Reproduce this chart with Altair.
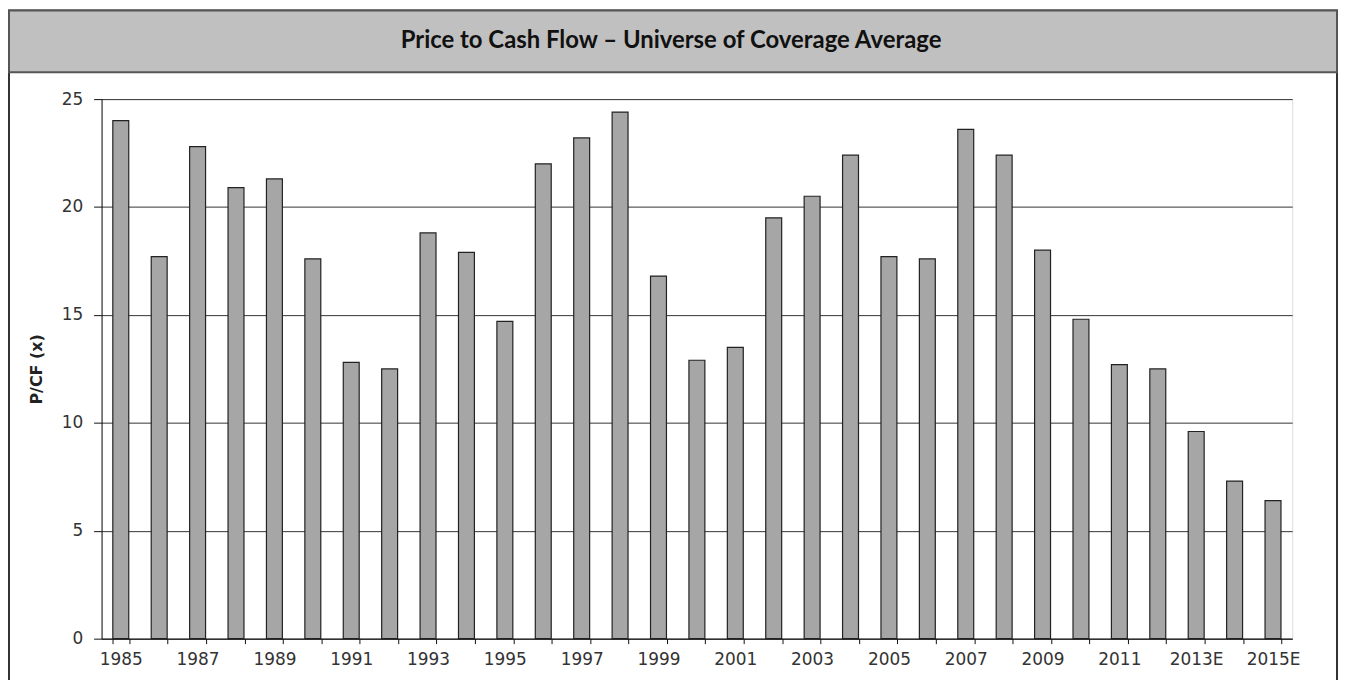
import altair as alt
import pandas as pd

years = ["1985", "1986", "1987", "1988", "1989", "1990", "1991", "1992", "1993", "1994",
         "1995", "1996", "1997", "1998", "1999", "2000", "2001", "2002", "2003", "2004",
         "2005", "2006", "2007", "2008", "2009", "2010", "2011", "2012", "2013E", "2014E", "2015E"]
pcf = [24.0, 17.7, 22.8, 20.9, 21.3, 17.6, 12.8, 12.5, 18.8, 17.9,
       14.7, 22.0, 23.2, 24.4, 16.8, 12.9, 13.5, 19.5, 20.5, 22.4,
       17.7, 17.6, 23.6, 22.4, 18.0, 14.8, 12.7, 12.5, 9.6, 7.3, 6.4]
title_text = "Price to Cash Flow \u2013 Universe of Coverage Average"
y_title = "P/CF (x)"

df = pd.DataFrame({"year": years, "pcf": pcf})
one = pd.DataFrame({"t": [title_text]})

W, H = 1196, 542
PL, PT = 94, 90

frame = alt.Chart(one).mark_rect(fill=None, stroke="#333333", strokeWidth=2).encode(
    x=alt.value(-93), x2=alt.value(1241), y=alt.value(-89), y2=alt.value(620)
)
bar_band = alt.Chart(one).mark_rect(fill="#c0c0c0", stroke="#555555", strokeWidth=2).encode(
    x=alt.value(-93), x2=alt.value(1241), y=alt.value(-89), y2=alt.value(-27)
)
title = alt.Chart(one).mark_text(
    font="Lato", fontWeight="bold", fontSize=24, color="#111111", align="center", baseline="middle"
).encode(x=alt.value(572), y=alt.value(-58), text="t:N")

bars = alt.Chart(df).mark_bar(
    fill="#a6a6a6", stroke="#222222", strokeWidth=1.2, width=16
).encode(
    x=alt.X("year:N", sort=years, title=None,
            scale=alt.Scale(paddingInner=0.56),
            axis=alt.Axis(labelAngle=0, tickBand="extent", grid=False,
                          labelExpr="parseInt(datum.value) % 2 == 1 ? datum.value : ''",
                          labelFont="DejaVu Sans", labelFontSize=17, labelColor="#333333",
                          domainColor="#111111", tickColor="#111111", tickSize=5,
                          labelPadding=8)),
    y=alt.Y("pcf:Q", title=y_title,
            scale=alt.Scale(domain=[0, 25]),
            axis=alt.Axis(values=[0, 5, 10, 15, 20, 25], grid=True, gridColor="#333333",
                          gridWidth=1, labelFont="DejaVu Sans", labelFontSize=17,
                          labelColor="#333333", domainColor="#111111", tickColor="#111111",
                          tickSize=8, labelPadding=11, titleFont="DejaVu Sans",
                          titleFontSize=16, titleFontWeight="bold", titleColor="#222222",
                          titlePadding=17)),
)

chart = alt.layer(frame, bar_band, title, bars).properties(
    width=W, height=H,
    autosize=alt.AutoSizeParams(type="none"),
    padding={"left": PL, "top": PT, "right": 47, "bottom": 40},
).configure_view(stroke="#333333", strokeWidth=1.2).configure(background="white")

chart.save("out.html", embed_options={"renderer": "svg", "actions": False})
